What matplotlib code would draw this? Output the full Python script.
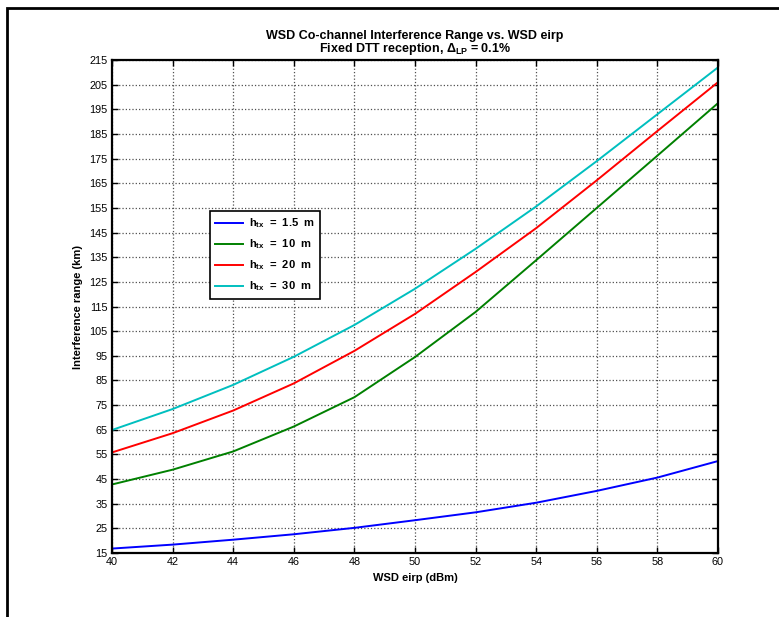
import numpy as np
import matplotlib
matplotlib.use("Agg")
import matplotlib.pyplot as plt
from matplotlib.patches import Rectangle

plt.rcParams['font.family'] = ['Liberation Sans', 'DejaVu Sans']
plt.rcParams['mathtext.fontset'] = 'custom'
plt.rcParams['mathtext.rm'] = 'Liberation Sans'
plt.rcParams['mathtext.bf'] = 'Liberation Sans:bold'

# WSD eirp (dBm)
eirp = [40, 42, 44, 46, 48, 50, 52, 54, 56, 58, 60]

# interference range (km) per transmitter height
r_15 = [16.8, 18.4, 20.4, 22.6, 25.2, 28.3, 31.5, 35.4, 40.2, 45.6, 52.3]
r_10 = [42.8, 48.8, 56.2, 66.3, 78.2, 94.5, 112.8, 133.8, 155.0, 176.2, 197.5]
r_20 = [55.8, 63.6, 72.8, 83.8, 97.0, 112.0, 129.0, 146.8, 166.2, 186.2, 206.0]
r_30 = [64.9, 73.4, 83.2, 94.6, 107.5, 122.2, 138.4, 155.6, 174.0, 193.0, 212.0]

labels = [r'h$_{\mathbf{tx}}$  =  1.5  m', r'h$_{\mathbf{tx}}$  =  10  m',
          r'h$_{\mathbf{tx}}$  =  20  m', r'h$_{\mathbf{tx}}$  =  30  m']
colors = ['#0000ff', '#008000', '#ff0000', '#00bfbf']

fig = plt.figure(figsize=(7.79, 6.17), dpi=100)
ax = fig.add_axes([112/779, 1 - 553/617, 606/779, 493/617])

# outer frame (only left/top visible in the picture)
fig.patches.append(Rectangle((7/779, -0.1), 1.2, 1 - 8/617 + 0.1, transform=fig.transFigure,
                             fill=False, edgecolor='black', linewidth=2.0))

for y, lab, c in zip([r_15, r_10, r_20, r_30], labels, colors):
    ax.plot(eirp, y, color=c, linewidth=1.4, label=lab)

ax.set_xlim(40, 60)
ax.set_ylim(15, 215)
ax.set_xticks(np.arange(40, 61, 2))
ax.set_yticks(np.arange(15, 216, 10))
ax.tick_params(direction='in', top=True, right=True, length=4, width=1, labelsize=7.8, pad=3)
ax.grid(True, linestyle=':', color='#505050', linewidth=0.9)
for s in ax.spines.values():
    s.set_linewidth(1.6)

ax.set_xlabel('WSD eirp (dBm)', fontsize=8, fontweight='bold', labelpad=4)
ax.set_ylabel('Interference range (km)', fontsize=8, fontweight='bold', labelpad=5)
ax.set_title('WSD Co-channel Interference Range vs. WSD eirp\n'
             r'Fixed DTT reception, $\mathbf{\Delta_{LP}}$ = 0.1%',
             fontsize=9, fontweight='bold', linespacing=0.95, pad=5.5)

leg = ax.legend(loc='upper left', bbox_to_anchor=(0.152, 0.705),
                prop={'weight': 'bold', 'size': 8}, fancybox=False, framealpha=1,
                edgecolor='black', handlelength=2.5, handletextpad=0.5,
                borderpad=0.5, labelspacing=0.65)
leg.get_frame().set_linewidth(1.2)

fig.savefig('out.png', dpi=100)
